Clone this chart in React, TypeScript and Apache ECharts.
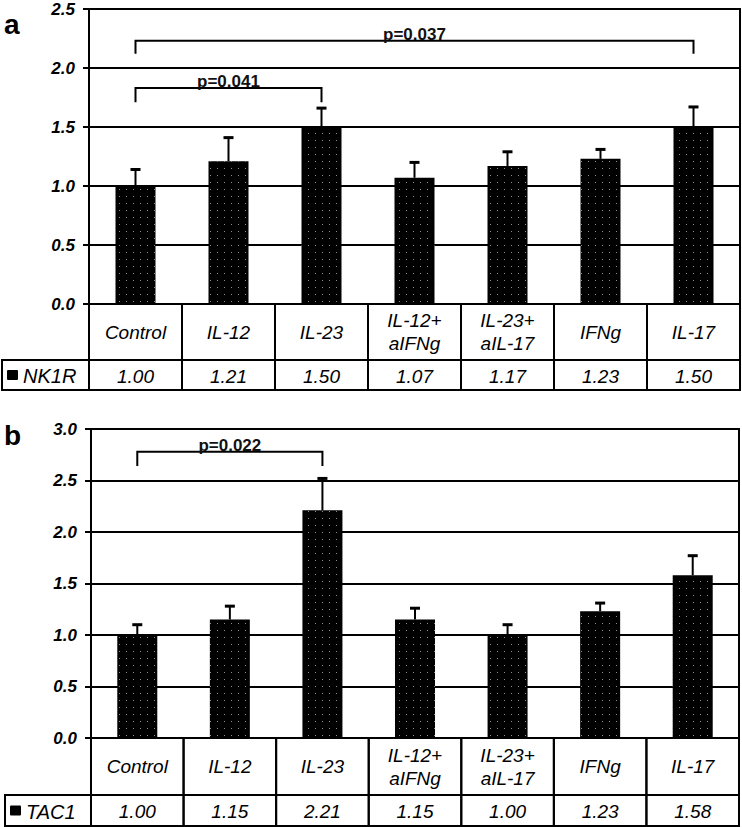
import React, { useEffect, useRef } from "react";
import * as echarts from "echarts";

const categories = ["Control", "IL-12", "IL-23", "IL-12+\naIFNg", "IL-23+\naIL-17", "IFNg", "IL-17"];

const nk1rValues = [1.0, 1.21, 1.5, 1.07, 1.17, 1.23, 1.5];
const nk1rUpper = [1.14, 1.41, 1.66, 1.2, 1.29, 1.31, 1.67];
const nk1rLabels = ["1.00", "1.21", "1.50", "1.07", "1.17", "1.23", "1.50"];

const tac1Values = [1.0, 1.15, 2.21, 1.15, 1.0, 1.23, 1.58];
const tac1Upper = [1.1, 1.28, 2.52, 1.26, 1.1, 1.31, 1.77];
const tac1Labels = ["1.00", "1.15", "2.21", "1.15", "1.00", "1.23", "1.58"];

// brackets: [fromIndex, toIndex, lineValue, legValue]
const nk1rBrackets = [
  [0, 6, 2.23, 2.12],
  [0, 2, 1.83, 1.71],
];
const nk1rBracketLabels = ["p=0.037", "p=0.041"];
const tac1Brackets = [[0, 2, 2.78, 2.64]];
const tac1BracketLabels = ["p=0.022"];

const FONT = '"Liberation Sans", Arial, sans-serif';

function tableRender(names: string[], labels: string[], legendName: string, legendLeft: number, h1: number, h2: number) {
  return (params: any, api: any) => {
    const i = api.value(0);
    const p = api.coord([i, 0]);
    const cx = p[0];
    const y0 = p[1];
    const w = api.size([1, 0])[0];
    const x0 = cx - w / 2;
    const border = { fill: "none", stroke: "#000", lineWidth: 2 };
    const children: any[] = [
      { type: "rect", shape: { x: x0, y: y0, width: w, height: h1 }, style: border },
      { type: "rect", shape: { x: x0, y: y0 + h1, width: w, height: h2 }, style: border },
      {
        type: "text",
        style: {
          text: names[i], x: cx, y: y0 + h1 / 2, align: "center", verticalAlign: "middle",
          fontSize: 19, fontStyle: "italic", fontFamily: FONT, lineHeight: 23, fill: "#000",
        },
      },
      {
        type: "text",
        style: {
          text: labels[i], x: cx, y: y0 + h1 + h2 / 2 + 1, align: "center", verticalAlign: "middle",
          fontSize: 19, fontStyle: "italic", fontFamily: FONT, fill: "#000",
        },
      },
    ];
    if (i === 0) {
      children.push(
        { type: "rect", shape: { x: legendLeft, y: y0 + h1, width: x0 - legendLeft, height: h2 }, style: border },
        { type: "rect", shape: { x: legendLeft + 5, y: y0 + h1 + h2 / 2 - 5, width: 11, height: 10, r: 1 }, style: { fill: "#000" } },
        {
          type: "text",
          style: {
            text: legendName, x: legendLeft + 21, y: y0 + h1 + h2 / 2 + 1, align: "left", verticalAlign: "middle",
            fontSize: 20, fontStyle: "italic", fontFamily: FONT, fill: "#000",
          },
        }
      );
    }
    return { type: "group", children };
  };
}

function errRender(params: any, api: any) {
  const i = api.value(0);
  const a = api.coord([i, api.value(1)]);
  const b = api.coord([i, api.value(2)]);
  return {
    type: "group",
    children: [
      { type: "line", shape: { x1: a[0], y1: a[1], x2: b[0], y2: b[1] }, style: { stroke: "#000", lineWidth: 2 } },
      { type: "line", shape: { x1: b[0] - 5, y1: b[1], x2: b[0] + 5, y2: b[1] }, style: { stroke: "#000", lineWidth: 3 } },
    ],
  };
}

function bracketRender(labels: string[]) {
  return (params: any, api: any) => {
    const l1 = api.coord([api.value(0), api.value(3)]);
    const t1 = api.coord([api.value(0), api.value(2)]);
    const t2 = api.coord([api.value(1), api.value(2)]);
    const l2 = api.coord([api.value(1), api.value(3)]);
    return {
      type: "group",
      children: [
        {
          type: "polyline",
          shape: { points: [l1, t1, t2, l2] },
          style: { stroke: "#000", lineWidth: 2, fill: "none" },
        },
        {
          type: "text",
          style: {
            text: labels[params.dataIndex], x: (t1[0] + t2[0]) / 2, y: t1[1] + 2, align: "center", verticalAlign: "bottom",
            fontSize: 17, fontWeight: "bold", fontFamily: FONT, fill: "#111",
          },
        },
      ],
    };
  };
}

const decal = {
  symbol: "rect",
  symbolSize: 1,
  dashArrayX: [1, 6],
  dashArrayY: [1, 6],
  color: "#8c8c8c",
};

function yAxisFor(gridIndex: number, max: number) {
  return {
    type: "value",
    gridIndex,
    min: 0,
    max,
    interval: 0.5,
    axisLine: { show: true, lineStyle: { color: "#000", width: 2 } },
    axisTick: { show: true, inside: false, length: 6, lineStyle: { color: "#000", width: 2 } },
    axisLabel: {
      margin: 14,
      formatter: (v: number) => v.toFixed(1),
      color: "#000",
      fontSize: 17,
      fontWeight: "bold",
      fontStyle: "italic",
      fontFamily: FONT,
    },
    splitLine: { show: true, lineStyle: { color: "#000", width: 2 } },
  };
}

function xAxisFor(gridIndex: number) {
  return {
    type: "category",
    gridIndex,
    data: categories,
    axisLabel: { show: false },
    axisTick: { show: false },
    axisLine: { show: false },
    splitLine: { show: false },
  };
}

export default function App() {
  const ref = useRef<HTMLDivElement>(null);
  useEffect(() => {
    if (!ref.current) return;
    const chart = echarts.init(ref.current, undefined, { renderer: "svg" });
    chart.setOption({
      animation: false,
      backgroundColor: "#fff",
      grid: [
        { left: 89, top: 9, width: 651, height: 295, show: true, borderColor: "#000", borderWidth: 2 },
        { left: 91, top: 429, width: 648, height: 309, show: true, borderColor: "#000", borderWidth: 2 },
      ],
      xAxis: [xAxisFor(0), xAxisFor(1)],
      yAxis: [yAxisFor(0, 2.5), yAxisFor(1, 3)],
      graphic: [
        { type: "text", left: 4, top: 10, style: { text: "a", fontSize: 28, fontWeight: "bold", fontFamily: FONT, fill: "#000" } },
        { type: "text", left: 4, top: 421, style: { text: "b", fontSize: 28, fontWeight: "bold", fontFamily: FONT, fill: "#000" } },
      ],
      series: [
        {
          type: "bar", name: "NK1R", xAxisIndex: 0, yAxisIndex: 0, data: nk1rValues, barWidth: 40,
          itemStyle: { color: "#000", decal },
        },
        {
          type: "bar", name: "TAC1", xAxisIndex: 1, yAxisIndex: 1, data: tac1Values, barWidth: 40,
          itemStyle: { color: "#000", decal },
        },
        {
          type: "custom", xAxisIndex: 0, yAxisIndex: 0, z: 5, clip: false,
          data: nk1rValues.map((v, i) => [i, v, nk1rUpper[i]]),
          renderItem: errRender,
        },
        {
          type: "custom", xAxisIndex: 1, yAxisIndex: 1, z: 5, clip: false,
          data: tac1Values.map((v, i) => [i, v, tac1Upper[i]]),
          renderItem: errRender,
        },
        {
          type: "custom", xAxisIndex: 0, yAxisIndex: 0, z: 6, clip: false,
          data: nk1rBrackets,
          encode: { x: [0, 1], y: [2, 3] },
          renderItem: bracketRender(nk1rBracketLabels),
        },
        {
          type: "custom", xAxisIndex: 1, yAxisIndex: 1, z: 6, clip: false,
          data: tac1Brackets,
          encode: { x: [0, 1], y: [2, 3] },
          renderItem: bracketRender(tac1BracketLabels),
        },
        {
          type: "custom", xAxisIndex: 0, yAxisIndex: 0, z: 4, clip: false,
          data: nk1rValues.map((v, i) => [i, 0]),
          encode: { x: 0, y: 1 },
          renderItem: tableRender(categories, nk1rLabels, "NK1R", 2, 56, 30),
        },
        {
          type: "custom", xAxisIndex: 1, yAxisIndex: 1, z: 4, clip: false,
          data: tac1Values.map((v, i) => [i, 0]),
          encode: { x: 0, y: 1 },
          renderItem: tableRender(categories, tac1Labels, "TAC1", 5, 57, 31),
        },
      ],
    });
    return () => chart.dispose();
  }, []);
  return <div ref={ref} style={{ position: "fixed", left: 0, top: 0, width: 742, height: 827 }} />;
}
